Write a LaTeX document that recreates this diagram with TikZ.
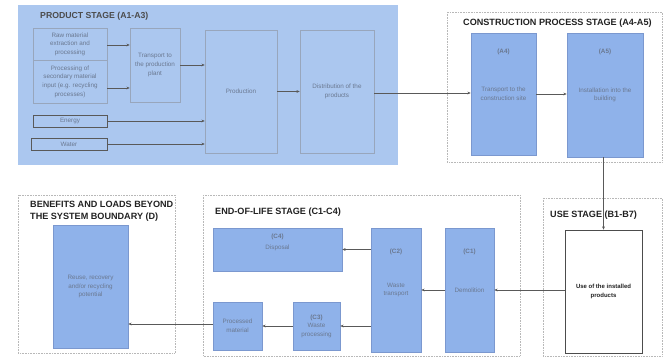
\documentclass[tikz,border=0pt]{standalone}
\usepackage{fontspec}
\setmainfont{Liberation Sans}
\usetikzlibrary{arrows.meta}
\definecolor{panelblue}{HTML}{ABC7EF}
\definecolor{boxblue}{HTML}{8FB2EA}
\definecolor{boxedge}{HTML}{7B98CF}
\definecolor{pedge}{HTML}{98A6BC}
\definecolor{btext}{HTML}{6A7890}
\definecolor{ttext}{HTML}{222222}
\definecolor{dotgray}{HTML}{B8B8B8}
\tikzset{
  panel/.style={draw=dotgray, densely dotted, line width=0.6pt, fill=white},
  pbox/.style={draw=pedge, line width=0.6pt, fill=panelblue, inner sep=1pt, align=center,
    text=btext, font=\fontsize{6.3}{8.6}\selectfont},
  darkbox/.style={pbox, draw=black!65, line width=0.8pt},
  bbox/.style={draw=boxedge, line width=0.7pt, fill=boxblue, inner sep=1pt, align=center,
    text=btext, font=\fontsize{6.3}{8.6}\selectfont},
  wbox/.style={draw=black!70, line width=0.7pt, fill=white, inner sep=1pt, align=center,
    text=ttext, font=\bfseries\fontsize{6}{8.2}\selectfont},
  lbl/.style={text=btext, font=\bfseries\fontsize{6.3}{7}\selectfont, inner sep=0pt},
  ttl/.style={text=ttext, font=\bfseries\fontsize{9.1}{12}\selectfont, inner sep=0pt, anchor=west},
  arr/.style={draw=black!65, line width=0.6pt, -{Stealth[length=3.2pt,width=2.8pt]}},
}
\begin{document}
\begin{tikzpicture}[x=1pt,y=-1pt]
\useasboundingbox (0,0) rectangle (664,358);
% panels
\fill[panelblue] (18,5) rectangle (398,165);
\draw[panel] (447,12) rectangle (662,162);
\draw[panel] (543,198) rectangle (662,356);
\draw[panel] (203,195) rectangle (520,356);
\draw[panel] (18,195) rectangle (175,353);
% titles
\node[ttl, font=\bfseries\fontsize{8.7}{10}\selectfont, text=black!70] at (40,16) {PRODUCT STAGE (A1-A3)};
\node[ttl] at (463,23) {CONSTRUCTION PROCESS STAGE (A4-A5)};
\node[ttl] at (550,215) {USE STAGE (B1-B7)};
\node[ttl] at (215,212) {END-OF-LIFE STAGE (C1-C4)};
\node[ttl, align=left] at (30,211) {BENEFITS AND LOADS BEYOND\\THE SYSTEM BOUNDARY (D)};
% product stage
\node[pbox, minimum width=74, minimum height=32] (raw) at (70,44) {Raw material\\extraction and\\processing};
\node[pbox, minimum width=74, minimum height=43] (sec) at (70,81.5) {Processing of\\secondary material\\input (e.g. recycling\\processes)};
\node[darkbox, minimum width=74, minimum height=12] (energy) at (70,121) {Energy};
\node[darkbox, minimum width=76, minimum height=12] (water) at (69,144) {Water};
\node[pbox, minimum width=50, minimum height=74] (tpp) at (155,65) {Transport to\\the production\\plant};
\node[pbox, minimum width=72, minimum height=123] (prod) at (241,91.5) {Production};
\node[pbox, minimum width=74, minimum height=123] (dist) at (337,91.5) {Distribution of the\\products};
% construction
\node[bbox, minimum width=65, minimum height=122] (a4) at (503.5,94) {Transport to the\\construction site};
\node[lbl] at ([yshift=-19]a4.north) {(A4)};
\node[bbox, minimum width=76, minimum height=124] (a5) at (605,95) {Installation into the\\building};
\node[lbl] at ([yshift=-19]a5.north) {(A5)};
% use
\node[wbox, minimum width=77, minimum height=123] (use) at (603.5,291.5) {Use of the installed\\products};
% end of life
\node[bbox, minimum width=129, minimum height=43] (c4) at (277.5,249.5) {};
\node[lbl] at ([yshift=-9]c4.north) {(C4)};
\node[bbox, draw=none, fill=none] at ([yshift=-20]c4.north) {Disposal};
\node[bbox, minimum width=50, minimum height=124] (c2) at (396,290) {Waste\\transport};
\node[lbl] at ([yshift=-24]c2.north) {(C2)};
\node[bbox, minimum width=49, minimum height=124] (c1) at (469.5,290) {Demolition};
\node[lbl] at ([yshift=-24]c1.north) {(C1)};
\node[bbox, minimum width=47, minimum height=48] (c3) at (316.5,326) {\textbf{(C3)}\\Waste\\processing};
\node[bbox, minimum width=49, minimum height=48] (pm) at (237.5,326) {Processed\\material};
% D
\node[bbox, minimum width=75, minimum height=123] (d) at (90.5,286.5) {Reuse, recovery\\and/or recycling\\potential};
% arrows
\draw[arr] ([yshift=-1]raw.east) -- ([yshift=-1]raw.east -| tpp.west);
\draw[arr] ([yshift=-6.5]sec.east) -- ([yshift=-6.5]sec.east -| tpp.west);
\draw[arr] (tpp.east) -- (tpp.east -| prod.west);
\draw[arr] (energy.east) -- (energy.east -| prod.west);
\draw[arr] (water.east) -- (water.east -| prod.west);
\draw[arr] (prod.east) -- (dist.west);
\draw[arr] ([yshift=-1.5]dist.east) -- ([yshift=-1.5]dist.east -| a4.west);
\draw[arr] (a4.east) -- (a4.east -| a5.west);
\draw[arr] (a5.south -| use.north) -- (use.north);
\draw[arr] ([yshift=1.5]use.west) -- ([yshift=1.5]use.west -| c1.east);
\draw[arr] (c1.west) -- (c2.east);
\draw[arr] (c4.east -| c2.west) -- (c4.east);
\draw[arr] (c3.east -| c2.west) -- (c3.east);
\draw[arr] (c3.west) -- (pm.east);
\draw[arr] ([yshift=2]pm.west) -- ([yshift=2]pm.west -| d.east);
\end{tikzpicture}
\end{document}
